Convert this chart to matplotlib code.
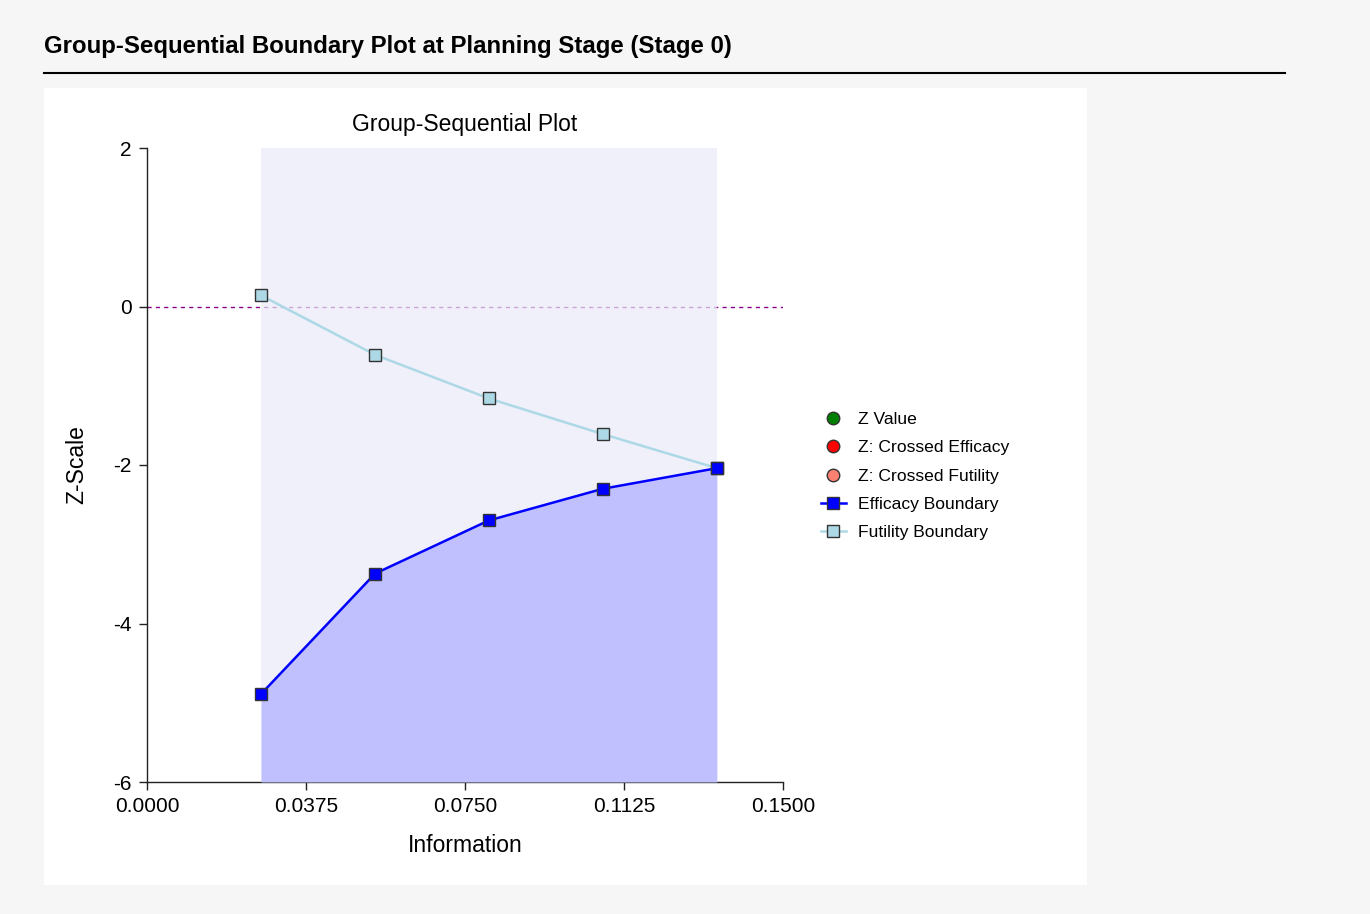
import numpy as np
from matplotlib import pyplot as plt
from matplotlib.patches import Rectangle
from matplotlib.lines import Line2D

plt.rcParams['font.family'] = ['Liberation Sans', 'DejaVu Sans']

# Boundary data
information = [0.0269, 0.0538, 0.0806, 0.1075, 0.1344]
efficacy = [-4.89, -3.37, -2.70, -2.30, -2.04]
futility = [0.14, -0.61, -1.16, -1.61, -2.04]
z_values = []  # no observed Z at planning stage

x_ticks = [0.0, 0.0375, 0.075, 0.1125, 0.15]
y_ticks = [2, 0, -2, -4, -6]

fig = plt.figure(figsize=(13.7, 9.14), dpi=100)
fig.patch.set_facecolor("#f6f6f6")

# White panel behind the chart
fig.patches.append(Rectangle((44 / 1370, 1 - 885 / 914), (1087 - 44) / 1370, (885 - 88) / 914,
                             transform=fig.transFigure, facecolor="white", edgecolor="none", zorder=-5))

fig.text(44 / 1370, 1 - 47 / 914, "Group-Sequential Boundary Plot at Planning Stage (Stage 0)",
         fontsize=17.3, fontweight="bold", va="center", ha="left")
fig.add_artist(Line2D([44 / 1370, 1285 / 1370], [1 - 73 / 914, 1 - 73 / 914],
                      transform=fig.transFigure, color="black", linewidth=1.5))

ax = fig.add_axes([147 / 1370, 1 - 782 / 914, (783 - 147) / 1370, (782 - 148) / 914])
ax.set_zorder(1)
ax.set_facecolor("none")

ax.set_xlim(0, 0.15)
ax.set_ylim(-6, 2)

ax.axhline(0, color="#8b008b", linewidth=1.0, dashes=(3, 3), zorder=1)

# Shaded regions
ax.axvspan(information[0], information[-1], color="#eaeaf9", alpha=0.7, linewidth=0, zorder=2)
ax.fill_between(information, -6, efficacy, color="#c0c0ff", linewidth=0, zorder=3)

ax.plot(information, futility, color="#add8e6", linewidth=1.8, marker="s", markersize=8.5,
        markerfacecolor="#add8e6", markeredgecolor="#333333", markeredgewidth=1.0, zorder=4)
ax.plot(information, efficacy, color="#0000ff", linewidth=1.8, marker="s", markersize=8.5,
        markerfacecolor="#0000ff", markeredgecolor="#333333", markeredgewidth=1.0, zorder=5)

ax.set_xticks(x_ticks)
ax.set_xticklabels([f"{v:.4f}" for v in x_ticks])
ax.set_yticks(y_ticks)
ax.set_yticklabels([str(v) for v in y_ticks])
ax.tick_params(labelsize=15, length=6, width=1, color="#222222", pad=5)
ax.tick_params(axis="x", pad=5)
for s in ["top", "right"]:
    ax.spines[s].set_visible(False)
for s in ["left", "bottom"]:
    ax.spines[s].set_linewidth(1)
    ax.spines[s].set_color("#222222")

ax.set_title("Group-Sequential Plot", fontsize=16.5, pad=12)
ax.set_xlabel("Information", fontsize=16.5, labelpad=13)
ax.set_ylabel("Z-Scale", fontsize=16.5, labelpad=18)

# Legend
handles = [
    Line2D([], [], linestyle="none", marker="o", markersize=9, markerfacecolor="#008000", markeredgecolor="#333333"),
    Line2D([], [], linestyle="none", marker="o", markersize=9, markerfacecolor="#ff0000", markeredgecolor="#333333"),
    Line2D([], [], linestyle="none", marker="o", markersize=9, markerfacecolor="#fa8072", markeredgecolor="#333333"),
    Line2D([], [], color="#0000ff", linewidth=1.8, marker="s", markersize=8, markerfacecolor="#0000ff", markeredgecolor="#333333"),
    Line2D([], [], color="#add8e6", linewidth=1.8, marker="s", markersize=8, markerfacecolor="#add8e6", markeredgecolor="#333333"),
]
labels = ["Z Value", "Z: Crossed Efficacy", "Z: Crossed Futility", "Efficacy Boundary", "Futility Boundary"]
fig.legend(handles, labels, loc="center left", bbox_to_anchor=(821 / 1370, 1 - 476 / 914),
           frameon=False, fontsize=12.6, handlelength=1.4, handletextpad=0.7, labelspacing=0.74,
           borderpad=0, borderaxespad=0)

fig.savefig("out.png", dpi=100, facecolor=fig.get_facecolor())
